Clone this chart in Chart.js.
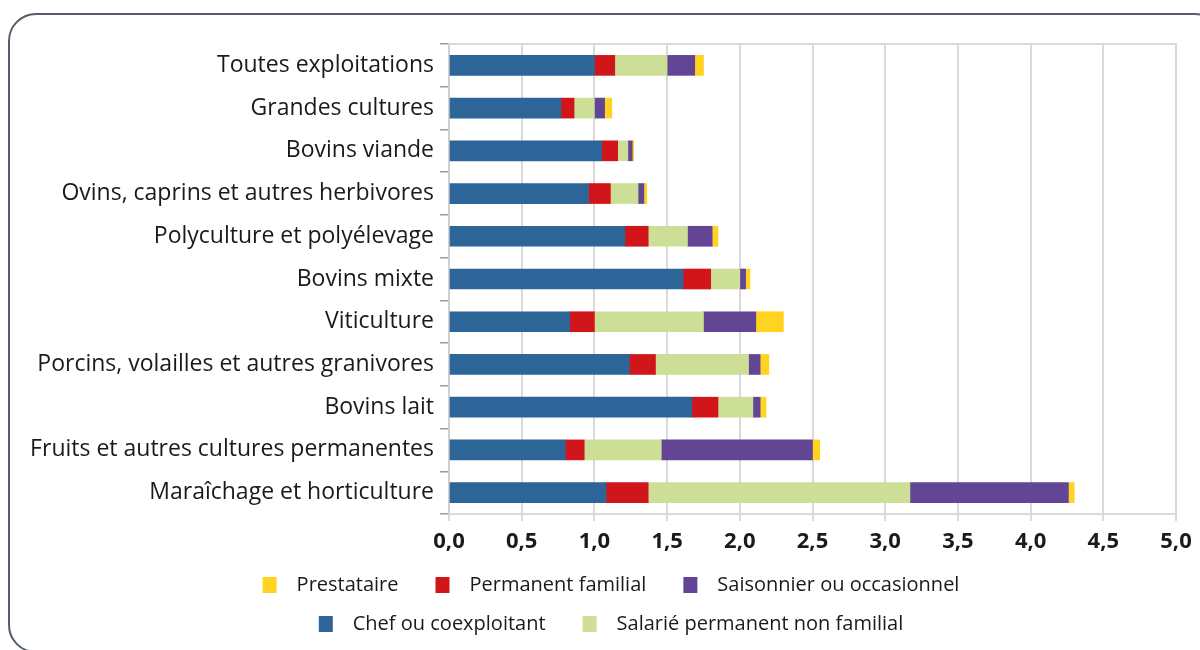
<!DOCTYPE html>
<html>
<head>
<meta charset="utf-8">
<script src="https://cdn.jsdelivr.net/npm/chart.js@4/dist/chart.umd.min.js"></script>
<style>
  html, body { margin: 0; padding: 0; background: #ffffff; overflow: hidden; }
  #wrap { position: relative; width: 1200px; height: 650px; }
  #frame { position: absolute; left: 8px; top: 13px; width: 1215px; height: 640px;
           border: 2px solid #545d6b; border-radius: 28px; box-sizing: border-box; pointer-events: none; }
  canvas { position: absolute; left: 0; top: 0; }
</style>
</head>
<body>
<div id="wrap">
  <canvas id="c" width="1200" height="650"></canvas>
  <div id="frame"></div>
</div>
<script>
const categories = [
  "Toutes exploitations",
  "Grandes cultures",
  "Bovins viande",
  "Ovins, caprins et autres herbivores",
  "Polyculture et polyélevage",
  "Bovins mixte",
  "Viticulture",
  "Porcins, volailles et autres granivores",
  "Bovins lait",
  "Fruits et autres cultures permanentes",
  "Maraîchage et horticulture"
];
const chefValues      = [1.00, 0.77, 1.05, 0.96, 1.21, 1.61, 0.83, 1.24, 1.67, 0.80, 1.08];
const permFamValues   = [0.14, 0.09, 0.11, 0.15, 0.16, 0.19, 0.17, 0.18, 0.18, 0.13, 0.29];
const salarieValues   = [0.36, 0.14, 0.07, 0.19, 0.27, 0.20, 0.75, 0.64, 0.24, 0.53, 1.80];
const saisonValues    = [0.19, 0.07, 0.03, 0.04, 0.17, 0.04, 0.36, 0.08, 0.05, 1.04, 1.09];
const prestValues     = [0.06, 0.05, 0.01, 0.02, 0.04, 0.03, 0.19, 0.06, 0.04, 0.05, 0.04];
const xTickLabels = ["0,0","0,5","1,0","1,5","2,0","2,5","3,0","3,5","4,0","4,5","5,0"];
const legendOrder = ["Prestataire", "Permanent familial", "Saisonnier ou occasionnel", "Chef ou coexploitant", "Salarié permanent non familial"];

const COLORS = {
  chef: "#2e6599",
  perm: "#d0151b",
  sal: "#cddf96",
  sais: "#634596",
  prest: "#ffd320"
};
const FONT = "'Open Sans', 'Noto Sans', sans-serif";

function legendSwatch(color) {
  const c = document.createElement('canvas');
  c.width = 42; c.height = 16;
  const g = c.getContext('2d');
  g.fillStyle = color;
  g.fillRect(18, 0, 14, 16);
  return c;
}

const datasets = [
  { label: "Chef ou coexploitant", data: chefValues, backgroundColor: COLORS.chef },
  { label: "Permanent familial", data: permFamValues, backgroundColor: COLORS.perm },
  { label: "Salarié permanent non familial", data: salarieValues, backgroundColor: COLORS.sal },
  { label: "Saisonnier ou occasionnel", data: saisonValues, backgroundColor: COLORS.sais },
  { label: "Prestataire", data: prestValues, backgroundColor: COLORS.prest }
].map(d => Object.assign(d, { barThickness: 20, borderWidth: 0 }));

const frameLines = {
  id: 'frameLines',
  afterInit(chart) {
    const lg = chart.legend;
    if (lg) {
      const proto = Object.getPrototypeOf(lg);
      lg._fitRows = function() {
        const saved = this.maxWidth;
        this.maxWidth = 800;
        const r = proto._fitRows.apply(this, arguments);
        this.maxWidth = saved;
        return r;
      };
    }
  },
  beforeDatasetsDraw(chart) {
    const {ctx, chartArea: a} = chart;
    ctx.save();
    ctx.strokeStyle = '#dadada';
    ctx.lineWidth = 2;
    ctx.beginPath();
    ctx.moveTo(a.left, a.top);
    ctx.lineTo(a.right + 1, a.top);
    ctx.stroke();
    ctx.restore();
  }
};

new Chart(document.getElementById('c'), {
  type: 'bar',
  data: { labels: categories, datasets },
  options: {
    indexAxis: 'y',
    responsive: false,
    animation: false,
    layout: { padding: { top: 44, right: 24, bottom: 6, left: 28 } },
    scales: {
      x: {
        stacked: true,
        min: 0, max: 5,
        afterFit(s) { s.height = 42; },
        ticks: {
          stepSize: 0.5,
          autoSkip: false,
          maxRotation: 0,
          color: '#1a1a1a',
          padding: 8,
          font: { family: FONT, size: 22, weight: 'bold' },
          callback: (v, i) => xTickLabels[i]
        },
        grid: { color: '#dadada', lineWidth: 2, tickLength: 7, drawTicks: true },
        border: { display: true, color: '#dadada', width: 2 }
      },
      y: {
        stacked: true,
        afterFit(s) { s.width = 421; },
        ticks: {
          color: '#1a1a1a',
          padding: 6,
          font: { family: FONT, size: 23 }
        },
        grid: { display: true, drawOnChartArea: false, color: '#9a9a9a', lineWidth: 1.5, tickLength: 9 },
        border: { display: true, color: '#d0d0d0', width: 2 }
      }
    },
    plugins: {
      tooltip: { enabled: false },
      legend: {
        position: 'bottom',
        labels: {
          usePointStyle: true,
          pointStyleWidth: 42,
          boxHeight: 16,
          padding: 19,
          color: '#1a1a1a',
          font: { family: FONT, size: 20 },
          generateLabels(chart) {
            return chart.data.datasets.map((ds, i) => ({
              text: ds.label,
              fillStyle: ds.backgroundColor,
              strokeStyle: ds.backgroundColor,
              lineWidth: 0,
              pointStyle: legendSwatch(ds.backgroundColor),
              hidden: false,
              datasetIndex: i,
              fontColor: '#1a1a1a'
            }));
          },
          sort: (a, b) => legendOrder.indexOf(a.text) - legendOrder.indexOf(b.text)
        }
      }
    }
  },
  plugins: [frameLines]
});
</script>
</body>
</html>
